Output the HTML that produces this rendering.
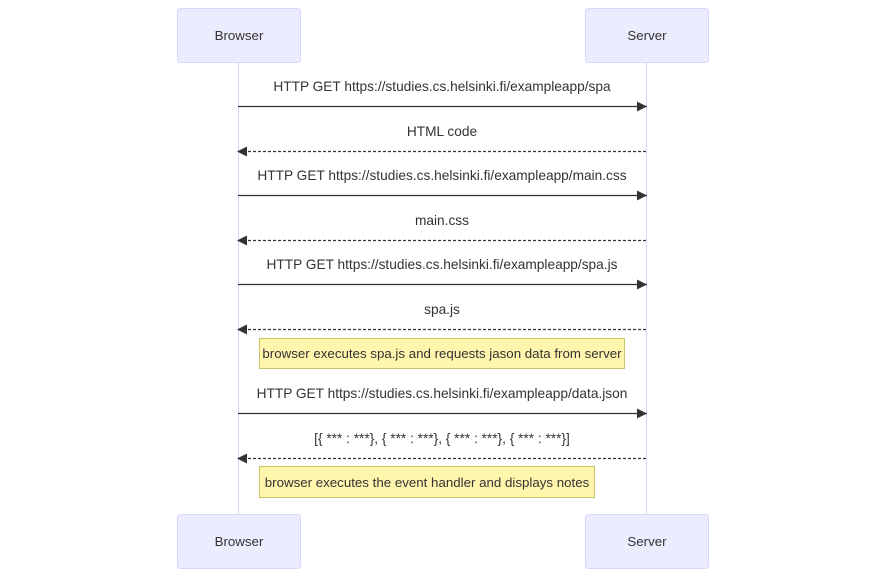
<!DOCTYPE html>
<html><head><meta charset="utf-8"><style>
html,body{margin:0;padding:0;background:#fff;width:885px;height:577px;overflow:hidden}
text{font-family:"Liberation Sans","DejaVu Sans",sans-serif;font-size:13.7px;fill:#333;text-anchor:middle}
text.n{font-size:13.3px}
</style></head><body>
<svg width="885" height="577" viewBox="0 0 885 577" xmlns="http://www.w3.org/2000/svg">
<defs>
<marker id="ah" markerWidth="12" markerHeight="12" refX="10" refY="5" orient="auto" markerUnits="userSpaceOnUse">
<path d="M0,0 L10,5 L0,10 z" fill="#333"/></marker>
</defs>
<line x1="238.5" y1="62" x2="238.5" y2="514" stroke="#d8d2f5" stroke-width="1"/>
<line x1="646.5" y1="62" x2="646.5" y2="514" stroke="#d8d2f5" stroke-width="1"/>
<rect x="177.5" y="8.5" width="123" height="54" rx="3" fill="#ececff" stroke="#d8d6fa"/>
<rect x="585.5" y="8.5" width="123" height="54" rx="3" fill="#ececff" stroke="#d8d6fa"/>
<rect x="177.5" y="514.5" width="123" height="54" rx="3" fill="#ececff" stroke="#d8d6fa"/>
<rect x="585.5" y="514.5" width="123" height="54" rx="3" fill="#ececff" stroke="#d8d6fa"/>
<text class="n" x="239" y="40">Browser</text><text class="n" x="647" y="40">Server</text>
<text class="n" x="239" y="546">Browser</text><text class="n" x="647" y="546">Server</text>

<text x="442" y="91">HTTP GET https://studies.cs.helsinki.fi/exampleapp/spa</text>
<line x1="238" y1="106.5" x2="647" y2="106.5" stroke="#333" stroke-width="1.3" marker-end="url(#ah)"/>
<text x="442" y="136">HTML code</text>
<line x1="646" y1="151.5" x2="237" y2="151.5" stroke="#333" stroke-width="1.3" stroke-dasharray="3,2" marker-end="url(#ah)"/>
<text x="442" y="180">HTTP GET https://studies.cs.helsinki.fi/exampleapp/main.css</text>
<line x1="238" y1="195.5" x2="647" y2="195.5" stroke="#333" stroke-width="1.3" marker-end="url(#ah)"/>
<text x="442" y="225">main.css</text>
<line x1="646" y1="240.5" x2="237" y2="240.5" stroke="#333" stroke-width="1.3" stroke-dasharray="3,2" marker-end="url(#ah)"/>
<text x="442" y="269">HTTP GET https://studies.cs.helsinki.fi/exampleapp/spa.js</text>
<line x1="238" y1="284.5" x2="647" y2="284.5" stroke="#333" stroke-width="1.3" marker-end="url(#ah)"/>
<text x="442" y="314">spa.js</text>
<line x1="646" y1="329.5" x2="237" y2="329.5" stroke="#333" stroke-width="1.3" stroke-dasharray="3,2" marker-end="url(#ah)"/>

<rect x="259.5" y="338.5" width="365" height="30" fill="#fff5ad" stroke="#c9c36a"/>
<text class="n" x="442" y="358">browser executes spa.js and requests jason data from server</text>

<text x="442" y="398">HTTP GET https://studies.cs.helsinki.fi/exampleapp/data.json</text>
<line x1="238" y1="413.5" x2="647" y2="413.5" stroke="#333" stroke-width="1.3" marker-end="url(#ah)"/>
<text x="442" y="443">[{ *** : ***}, { *** : ***}, { *** : ***}, { *** : ***}]</text>
<line x1="646" y1="458.5" x2="237" y2="458.5" stroke="#333" stroke-width="1.3" stroke-dasharray="3,2" marker-end="url(#ah)"/>

<rect x="259.5" y="466.5" width="335" height="31" fill="#fff5ad" stroke="#c9c36a"/>
<text class="n" x="427" y="487">browser executes the event handler and displays notes</text>
</svg>
</body></html>
